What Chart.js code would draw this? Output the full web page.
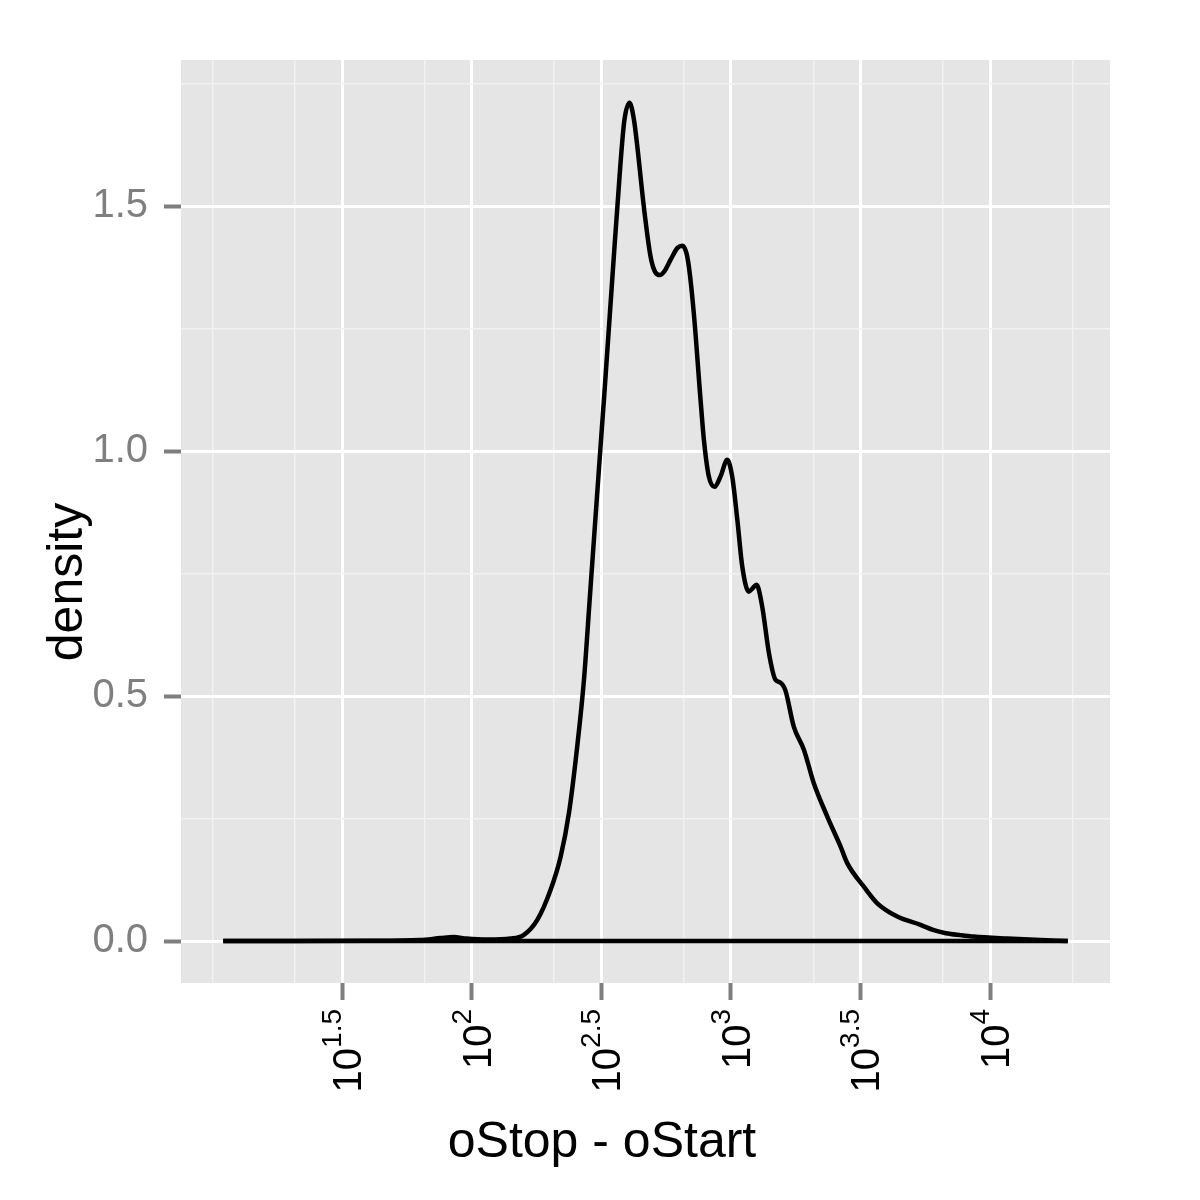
<!doctype html>
<html lang="en">

<head>
  <meta charset="utf-8">
  <title>density</title>
  <script src="https://cdn.jsdelivr.net/npm/chart.js@4.4.0/dist/chart.umd.min.js"></script>
  <style>
    html, body { margin: 0; padding: 0; background: #ffffff; }
  </style>
</head>

<body>
  <canvas id="myChart" width="1200" height="1200"></canvas>

  <script>
// log10(oStop - oStart) and the density
var logLength = [1.041, 1.30, 1.60, 1.80, 1.88, 1.93, 1.98, 2.06, 2.15, 2.20,
  2.253, 2.304, 2.343, 2.375, 2.407, 2.433, 2.455, 2.496, 2.510, 2.542,
  2.574, 2.589, 2.609, 2.626, 2.639, 2.664, 2.690, 2.708, 2.726, 2.745,
  2.767, 2.795, 2.813, 2.828, 2.838, 2.857, 2.883, 2.896, 2.915, 2.937,
  2.960, 2.986, 3.005, 3.025, 3.044, 3.069, 3.084, 3.099, 3.121, 3.147,
  3.172, 3.190, 3.210, 3.243, 3.282, 3.320, 3.372, 3.423, 3.449, 3.513,
  3.565, 3.642, 3.732, 3.783, 3.830, 3.886, 3.937, 4.066, 4.195, 4.300];
var density = [0, 0.0002, 0.0005, 0.002, 0.006, 0.008, 0.005, 0.003, 0.005, 0.012,
  0.043, 0.104, 0.172, 0.261, 0.397, 0.533, 0.696, 1.002, 1.104, 1.349,
  1.587, 1.675, 1.711, 1.676, 1.621, 1.499, 1.397, 1.365, 1.359, 1.368,
  1.390, 1.415, 1.419, 1.405, 1.376, 1.281, 1.104, 1.022, 0.948, 0.927,
  0.948, 0.982, 0.948, 0.859, 0.764, 0.713, 0.720, 0.727, 0.682, 0.587,
  0.533, 0.528, 0.512, 0.437, 0.390, 0.322, 0.254, 0.193, 0.159, 0.111,
  0.077, 0.050, 0.033, 0.022, 0.016, 0.012, 0.009, 0.005, 0.002, 0];

// axis breaks (x in log10 units)
var xBreaks = [1.5, 2, 2.5, 3, 3.5, 4];
var xBreakExp = ["1.5", "2", "2.5", "3", "3.5", "4"];
var xMinor = [1.0, 1.318, 1.818, 2.318, 2.818, 3.318, 3.818, 4.318];
var yBreaks = [0, 0.5, 1, 1.5];
var yMinor = [0.25, 0.75, 1.25, 1.75];

var xTitle = "oStop - oStart";
var yTitle = "density";

var FONT = "'Liberation Sans', Arial, Helvetica, sans-serif";

function isIn(list, v) {
  for (var i = 0; i < list.length; i++) {
    if (Math.abs(list[i] - v) < 1e-6) return true;
  }
  return false;
}

var curve = [];
for (var i = 0; i < logLength.length; i++) {
  curve.push({ x: logLength[i], y: density[i] });
}
var baseline = [
  { x: logLength[0], y: 0 },
  { x: logLength[logLength.length - 1], y: 0 }
];

// grey panel behind the grid
var panelBg = {
  id: "panelBg",
  beforeDraw: function(chart) {
    var a = chart.chartArea;
    var ctx = chart.ctx;
    ctx.save();
    ctx.fillStyle = "#e5e5e5";
    ctx.fillRect(a.left, a.top, a.right - a.left, a.bottom - a.top);
    ctx.restore();
  }
};

// rotated 10^k labels and the two axis titles
var axisText = {
  id: "axisText",
  afterDraw: function(chart) {
    var ctx = chart.ctx;
    var xs = chart.scales.x;
    ctx.save();
    ctx.fillStyle = "#000000";
    ctx.textBaseline = "alphabetic";
    ctx.textAlign = "left";
    for (var i = 0; i < xBreaks.length; i++) {
      var px = xs.getPixelForValue(xBreaks[i]);
      ctx.save();
      ctx.translate(px, 1009);
      ctx.rotate(-Math.PI / 2);
      ctx.font = "40px " + FONT;
      var w1 = ctx.measureText("10").width;
      ctx.font = "28px " + FONT;
      var w2 = ctx.measureText(xBreakExp[i]).width;
      ctx.font = "40px " + FONT;
      ctx.fillText("10", -(w1 + w2), 19);
      ctx.font = "28px " + FONT;
      ctx.fillText(xBreakExp[i], -w2, -1);
      ctx.restore();
    }

    ctx.font = "50px " + FONT;
    ctx.textAlign = "center";
    ctx.fillText(xTitle, 602, 1157);

    ctx.save();
    ctx.translate(82, 582);
    ctx.rotate(-Math.PI / 2);
    ctx.fillText(yTitle, 0, 0);
    ctx.restore();
    ctx.restore();
  }
};

var ctx = document.getElementById("myChart").getContext("2d");
var chart = new Chart(ctx, {
  type: "line",
  data: {
    datasets: [
      {
        data: curve,
        borderColor: "#000000",
        borderWidth: 4.5,
        pointRadius: 0,
        fill: false,
        cubicInterpolationMode: "monotone"
      },
      {
        data: baseline,
        borderColor: "#000000",
        borderWidth: 4.5,
        pointRadius: 0,
        fill: false
      }
    ]
  },
  options: {
    responsive: false,
    animation: false,
    devicePixelRatio: 1,
    layout: { padding: { top: 60, right: 90, left: 0, bottom: 0 } },
    plugins: {
      legend: { display: false },
      tooltip: { enabled: false }
    },
    scales: {
      x: {
        type: "linear",
        min: 0.878,
        max: 4.463,
        afterBuildTicks: function(scale) {
          scale.ticks = xMinor.concat(xBreaks).sort(function(a, b) { return a - b; })
            .map(function(v) { return { value: v }; });
        },
        afterFit: function(scale) { scale.height = 217; },
        border: { display: false },
        grid: {
          color: function(c) { return isIn(xBreaks, c.tick.value) ? "#ffffff" : "#f2f2f2"; },
          lineWidth: function(c) { return isIn(xBreaks, c.tick.value) ? 3 : 1.5; },
          tickColor: function(c) { return isIn(xBreaks, c.tick.value) ? "#7f7f7f" : "rgba(0,0,0,0)"; },
          tickLength: 17,
          tickWidth: 4
        },
        ticks: {
          autoSkip: false,
          maxRotation: 0,
          callback: function() { return ""; }
        }
      },
      y: {
        type: "linear",
        min: -0.0857,
        max: 1.798,
        afterBuildTicks: function(scale) {
          scale.ticks = yMinor.concat(yBreaks).sort(function(a, b) { return a - b; })
            .map(function(v) { return { value: v }; });
        },
        afterFit: function(scale) { scale.width = 181; },
        border: { display: false },
        grid: {
          color: function(c) { return isIn(yBreaks, c.tick.value) ? "#ffffff" : "#f2f2f2"; },
          lineWidth: function(c) { return isIn(yBreaks, c.tick.value) ? 3 : 1.5; },
          tickColor: function(c) { return isIn(yBreaks, c.tick.value) ? "#7f7f7f" : "rgba(0,0,0,0)"; },
          tickLength: 17,
          tickWidth: 4
        },
        ticks: {
          autoSkip: false,
          padding: 16,
          color: "#7f7f7f",
          font: { family: FONT, size: 40 },
          callback: function(value) { return isIn(yBreaks, value) ? value.toFixed(1) : ""; }
        }
      }
    }
  },
  plugins: [panelBg, axisText]
});
  </script>
</body>

</html>
